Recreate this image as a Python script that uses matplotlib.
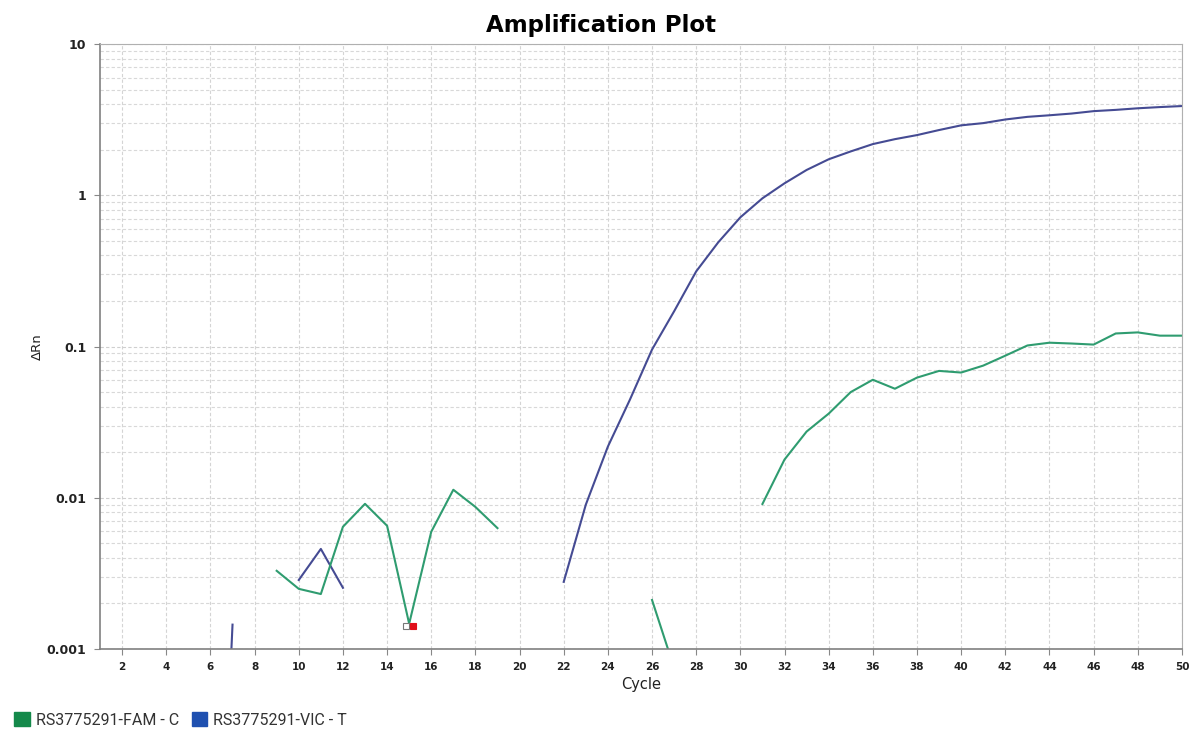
import numpy as np
import matplotlib
matplotlib.use('Agg')
import matplotlib.pyplot as plt
import matplotlib.transforms as mtransforms
from matplotlib.patches import Patch
from matplotlib.ticker import FixedLocator, LogLocator, NullFormatter

nan = np.nan

# cycles 1..50
cycles = np.arange(1, 51)

# FAM (green) delta Rn, nan = not drawn (below zero)
fam_values = [nan, nan, nan, nan, nan, nan, nan, nan, 0.00329, 0.0025,
              0.00231, 0.00643, 0.00912, 0.00653, 0.00147, 0.00596, 0.0113, 0.0087, 0.0063, nan,
              nan, nan, nan, nan, nan, 0.00211, 0.00075, nan, nan, nan,
              0.0091, 0.0179, 0.0274, 0.036, 0.050, 0.0603, 0.0526, 0.0623, 0.069, 0.0673,
              0.0748, 0.087, 0.1016, 0.106, 0.1047, 0.103, 0.122, 0.124, 0.118, 0.118]

# VIC (blue) delta Rn
vic_values = [nan, nan, nan, nan, nan, 0.0000009, 0.00145, nan, nan, 0.00286,
              0.00459, 0.00254, nan, nan, nan, nan, nan, nan, nan, nan,
              nan, 0.00278, 0.009, 0.0218, 0.0446, 0.0955, 0.171, 0.314, 0.489, 0.715,
              0.955, 1.2, 1.47, 1.73, 1.95, 2.18, 2.35, 2.5, 2.7, 2.9,
              3.0, 3.17, 3.3, 3.38, 3.47, 3.6, 3.67, 3.76, 3.83, 3.89]

flag_cycle = 15
x_ticks = list(range(2, 51, 2))
y_ticks = [0.001, 0.01, 0.1, 1, 10]
y_tick_labels = ['0.001', '0.01', '0.1', '1', '10']

fam_line = '#2f9c70'
vic_line = '#454b93'
fam_legend = '#14894a'
vic_legend = '#1f50b0'

fig = plt.figure(figsize=(11.91, 7.29), dpi=100)
ax = fig.add_axes([0.084, 0.1097, 0.9084, 0.8299])

ax.set_yscale('log')
ax.plot(cycles, vic_values, color=vic_line, lw=1.5)
ax.plot(cycles, fam_values, color=fam_line, lw=1.5)

# threshold flag marker (white/red) at the low FAM point
fy = fam_values[flag_cycle - 1]
left = mtransforms.offset_copy(ax.transData, fig=fig, x=-2.6, y=-1.5, units='points')
right = mtransforms.offset_copy(ax.transData, fig=fig, x=2.6, y=-1.5, units='points')
ax.plot([flag_cycle], [fy], marker='s', ms=5, mfc='white', mec='#777777', mew=0.8, transform=left)
ax.plot([flag_cycle], [fy], marker='s', ms=5, mfc='#e0101a', mec='#e0101a', mew=0.8, transform=right)

ax.set_xlim(1, 50)
ax.set_ylim(0.001, 10)
ax.xaxis.set_major_locator(FixedLocator(x_ticks))
ax.yaxis.set_major_locator(FixedLocator(y_ticks))
ax.set_yticklabels(y_tick_labels)
ax.yaxis.set_minor_locator(LogLocator(base=10, subs=np.arange(2, 10)))
ax.yaxis.set_minor_formatter(NullFormatter())

ax.grid(True, which='major', axis='x', color='#d4d4d4', ls=(0, (3, 2)), lw=0.8)
ax.grid(True, which='major', axis='y', color='#cfcfcf', ls=(0, (3, 2)), lw=0.8)
ax.grid(True, which='minor', axis='y', color='#d8d8d8', ls=(0, (3, 2)), lw=0.8)
ax.set_axisbelow(True)

ax.tick_params(axis='x', which='major', length=4, color='#888888', labelsize=7.5, pad=5)
ax.tick_params(axis='y', which='major', length=4, color='#888888', labelsize=9, pad=6)
ax.tick_params(axis='y', which='minor', length=0)
for lab in ax.get_xticklabels() + ax.get_yticklabels():
    lab.set_fontweight('bold')
    lab.set_color('#222222')

for side in ['top', 'right']:
    ax.spines[side].set_color('#b0b0b0')
for side in ['left', 'bottom']:
    ax.spines[side].set_color('#808080')
    ax.spines[side].set_linewidth(1.2)

fig.suptitle('Amplification Plot', x=0.505, y=0.965, va='center', fontsize=16.5, fontweight='heavy')
ax.set_xlabel('Cycle', fontsize=10.5, color='#222222', labelpad=4)
ax.set_ylabel('ΔRn', fontsize=9.5, color='#222222', labelpad=2)

handles = [Patch(color=fam_legend, label='RS3775291-FAM - C'),
           Patch(color=vic_legend, label='RS3775291-VIC - T')]
fig.legend(handles=handles, loc='lower left', bbox_to_anchor=(0.0, -0.018), ncol=2,
           frameon=False, prop={'family': 'Roboto', 'size': 11.5}, handlelength=0.95,
           handleheight=0.95, handletextpad=0.4, columnspacing=0.8, labelcolor='#333333')

fig.savefig('out.png', dpi=100)
